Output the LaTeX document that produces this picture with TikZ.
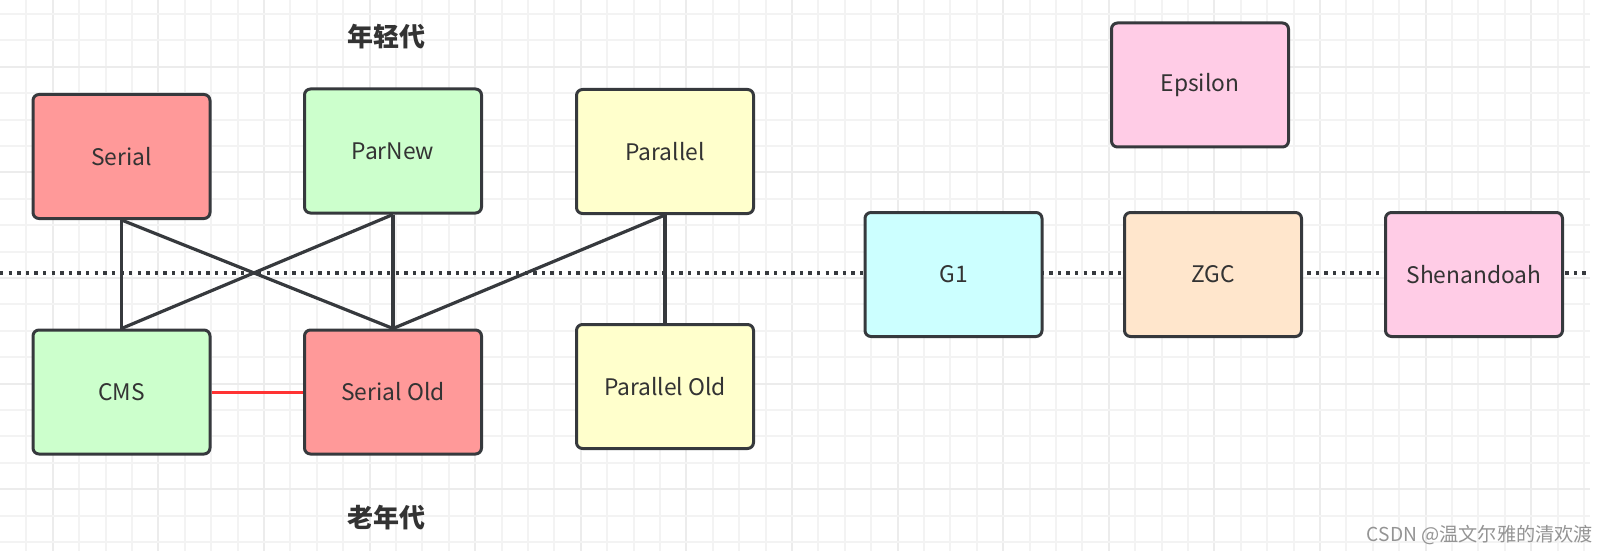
\documentclass[tikz,border=0pt]{standalone}
\usepackage{fontspec}
\setmainfont{Noto Sans CJK SC}
\usepackage{xcolor}
\definecolor{gcEdge}{HTML}{36393D}
\definecolor{gcText}{HTML}{333333}
\definecolor{gcGridMinor}{HTML}{F3F3F3}
\definecolor{gcGridMajor}{HTML}{ECECEC}
\definecolor{gcRed}{HTML}{FF9999}
\definecolor{gcGreen}{HTML}{CCFFCC}
\definecolor{gcYellow}{HTML}{FFFFCC}
\definecolor{gcCyan}{HTML}{CCFFFF}
\definecolor{gcOrange}{HTML}{FFE6CC}
\definecolor{gcPink}{HTML}{FFCCE6}
\definecolor{gcLink}{HTML}{FF3333}
\begin{document}
\begin{tikzpicture}[x=0.5pt,y=-0.5pt,
  gcBox/.style={draw=gcEdge, line width=1.5pt, rounded corners=3pt, minimum width=88.5pt, minimum height=62pt, inner sep=0pt, text=gcText, font=\fontsize{11.4}{13}\selectfont},
  gcWire/.style={draw=gcEdge, line width=1.6pt},
  gcGen/.style={inner sep=0pt, text=gcText, font=\fontsize{13}{15}\selectfont\bfseries}]
\useasboundingbox[fill=white] (0,0) rectangle (1612,551);
\foreach \k in {1,...,60} {\pgfmathtruncatemacro{\m}{mod(\k,4)}\ifnum\m=2 \draw[gcGridMajor, line width=1pt] (26.4*\k,0) -- (26.4*\k,551);\else \draw[gcGridMinor, line width=1pt] (26.4*\k,0) -- (26.4*\k,551);\fi}
\foreach \k in {0,...,20} {\pgfmathtruncatemacro{\m}{mod(\k,4)}\ifnum\m=2 \draw[gcGridMajor, line width=1pt] (0,14+26.4*\k) -- (1590,14+26.4*\k);\else \draw[gcGridMinor, line width=1pt] (0,14+26.4*\k) -- (1590,14+26.4*\k);\fi}
\coordinate (dotL) at (0,273);
\coordinate (dotR) at (1590,273);
\draw[gcEdge, line width=1.6pt, dash pattern=on 1.7pt off 2.6pt] (dotL) -- (dotR);
\node[gcBox, fill=gcRed] (serial) at (121.5,156.5) {Serial};
\node[gcBox, fill=gcGreen] (parnew) at (393,151) {ParNew};
\node[gcBox, fill=gcYellow] (parallel) at (665,151.5) {Parallel};
\node[gcBox, fill=gcGreen] (cms) at (121.5,392) {CMS};
\node[gcBox, fill=gcRed] (serialold) at (393,392) {Serial Old};
\node[gcBox, fill=gcYellow] (parallelold) at (665,386.5) {Parallel Old};
\node[gcBox, fill=gcPink] (epsilon) at (1200,85) {Epsilon};
\node[gcBox, fill=gcCyan] (gone) at (953.5,274.5) {G1};
\node[gcBox, fill=gcOrange] (zgc) at (1213,274.5) {ZGC};
\node[gcBox, fill=gcPink] (shenandoah) at (1474,274.5) {Shenandoah};
\draw[gcWire] (serial.south) -- (cms.north);
\draw[gcWire] (serial.south) -- (serialold.north);
\draw[gcWire] (parnew.south) -- (cms.north);
\draw[gcWire] (parnew.south) -- (serialold.north);
\draw[gcWire] (parallel.south) -- (serialold.north);
\draw[gcWire] (parallel.south) -- (parallelold.north);
\draw[gcLink, line width=1.5pt] (cms.east) -- (serialold.west);
\node[gcGen] (young) at (386,37) {年轻代};
\node[gcGen] (old) at (386,518) {老年代};
\node[inner sep=0pt, text=black!42, font=\fontsize{9.6}{11}\selectfont] (mark) at (1480,535) {CSDN @温文尔雅的清欢渡};
\end{tikzpicture}
\end{document}
